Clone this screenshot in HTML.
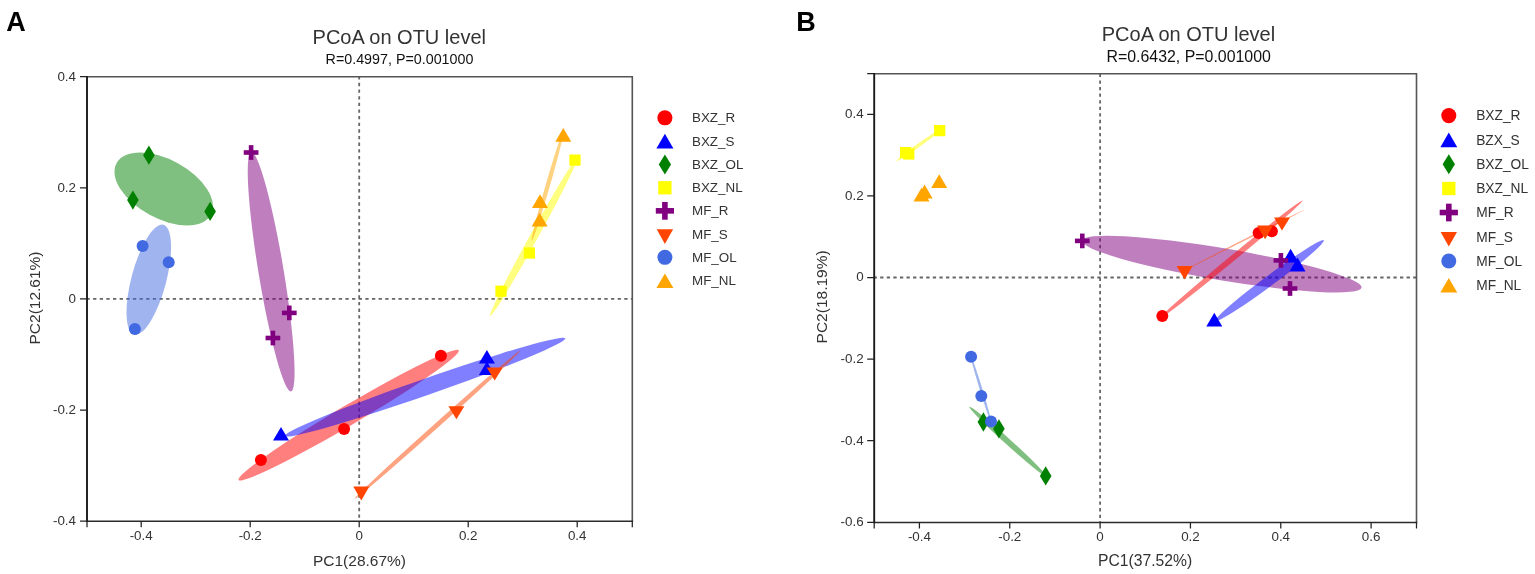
<!DOCTYPE html>
<html><head><meta charset="utf-8"><title>PCoA on OTU level</title>
<style>html,body{margin:0;padding:0;background:#fff;}body{width:1535px;height:574px;overflow:hidden;}svg{display:block;}</style>
</head><body>
<svg width="1535" height="574" viewBox="0 0 1535 574" font-family="'Liberation Sans', Arial, Helvetica, sans-serif">
<rect width="1535" height="574" fill="#fff"/>
<text x="6.3" y="30.6" font-size="27" fill="#000" text-anchor="start" font-weight="bold">A</text>
<text x="796.2" y="30.6" font-size="27" fill="#000" text-anchor="start" font-weight="bold">B</text>
<text x="399.3" y="43.7" font-size="20" fill="#333" text-anchor="middle">PCoA on OTU level</text>
<text x="399.5" y="64" font-size="14.3" fill="#111" text-anchor="middle">R=0.4997, P=0.001000</text>
<text x="1188.5" y="40.6" font-size="20" fill="#333" text-anchor="middle">PCoA on OTU level</text>
<text x="1188.7" y="62" font-size="15.9" fill="#111" text-anchor="middle">R=0.6432, P=0.001000</text>
<text x="359.5" y="566" font-size="15.5" fill="#333" text-anchor="middle">PC1(28.67%)</text>
<text x="1145.1" y="566.4" font-size="15.7" fill="#333" text-anchor="middle">PC1(37.52%)</text>
<text x="0" y="0" font-size="15.5" fill="#333" text-anchor="middle" transform="translate(40.0 298.0) rotate(-90)">PC2(12.61%)</text>
<text x="0" y="0" font-size="15.5" fill="#333" text-anchor="middle" transform="translate(826.8 296.9) rotate(-90)">PC2(18.19%)</text>
<line x1="87" y1="298.95" x2="632.3" y2="298.95" stroke="#666" stroke-width="1.8" stroke-dasharray="3.32 3.32" stroke-dashoffset="0.57"/>
<line x1="359.2" y1="521.2" x2="359.2" y2="76.8" stroke="#666" stroke-width="1.8" stroke-dasharray="3.32 3.32" stroke-dashoffset="3.21"/>
<line x1="874.2" y1="277.5" x2="1416.5" y2="277.5" stroke="#666" stroke-width="1.8" stroke-dasharray="3.29 3.29" stroke-dashoffset="0.6"/>
<line x1="1100.1" y1="522.5" x2="1100.1" y2="73.7" stroke="#666" stroke-width="1.8" stroke-dasharray="3.29 3.29" stroke-dashoffset="2.04"/>
<ellipse cx="163.7" cy="189" rx="53.7" ry="29.4" transform="rotate(28.6 163.7 189)" fill="#008000" fill-opacity="0.5"/>
<ellipse cx="148.8" cy="279.7" rx="56.8" ry="17.4" transform="rotate(-75.1 148.8 279.7)" fill="#4169E1" fill-opacity="0.5"/>
<ellipse cx="271.15" cy="271.85" rx="121.29" ry="12.6" transform="rotate(80.58 271.15 271.85)" fill="#800080" fill-opacity="0.5"/>
<ellipse cx="533.6" cy="237.15" rx="89.83" ry="4" transform="rotate(-61.11 533.6 237.15)" fill="#FFFF00" fill-opacity="0.5"/>
<ellipse cx="547.6" cy="186" rx="57.25" ry="2.2" transform="rotate(-73.88 547.6 186)" fill="#FFA500" fill-opacity="0.5"/>
<ellipse cx="348.65" cy="415.15" rx="127.74" ry="9.9" transform="rotate(-30.51 348.65 415.15)" fill="#FF0000" fill-opacity="0.5"/>
<ellipse cx="425.1" cy="387.2" rx="148.45" ry="8.2" transform="rotate(-19.19 425.1 387.2)" fill="#0000FF" fill-opacity="0.5"/>
<ellipse cx="437.4" cy="424.75" rx="111.36" ry="2.4" transform="rotate(-41.82 437.4 424.75)" fill="#FF4500" fill-opacity="0.5"/>
<circle cx="260.9" cy="460" r="6" fill="#FF0000"/>
<circle cx="344.1" cy="429" r="6" fill="#FF0000"/>
<circle cx="440.9" cy="355.7" r="6" fill="#FF0000"/>
<polygon points="281,427 289,440.6 273,440.6" fill="#0000FF"/>
<polygon points="486.9,349.9 494.9,363.5 478.9,363.5" fill="#0000FF"/>
<polygon points="486.9,361.5 494.9,375.1 478.9,375.1" fill="#0000FF"/>
<polygon points="148.9,145.55 154.7,155.2 148.9,164.85 143.1,155.2" fill="#008000"/>
<polygon points="132.9,190.45 138.7,200.1 132.9,209.75 127.1,200.1" fill="#008000"/>
<polygon points="210.1,201.75 215.9,211.4 210.1,221.05 204.3,211.4" fill="#008000"/>
<rect x="569.4" y="154.5" width="11.2" height="11.2" fill="#FFFF00"/>
<rect x="523.8" y="247.4" width="11.2" height="11.2" fill="#FFFF00"/>
<rect x="495.4" y="285.6" width="11.2" height="11.2" fill="#FFFF00"/>
<rect x="243.75" y="150.2" width="14.7" height="4.6" fill="#800080"/><rect x="248.8" y="145.15" width="4.6" height="14.7" fill="#800080"/>
<rect x="281.95" y="310.6" width="14.7" height="4.6" fill="#800080"/><rect x="287" y="305.55" width="4.6" height="14.7" fill="#800080"/>
<rect x="265.55" y="335.7" width="14.7" height="4.6" fill="#800080"/><rect x="270.6" y="330.65" width="4.6" height="14.7" fill="#800080"/>
<polygon points="486.7,367.6 502.7,367.6 494.7,380.6" fill="#FF4500"/>
<polygon points="448.4,406.3 464.4,406.3 456.4,419.3" fill="#FF4500"/>
<polygon points="353.3,486.6 369.3,486.6 361.3,500.4" fill="#FF4500"/>
<circle cx="142.6" cy="246.1" r="6" fill="#4169E1"/>
<circle cx="168.7" cy="262.2" r="6" fill="#4169E1"/>
<circle cx="134.9" cy="329.1" r="6" fill="#4169E1"/>
<polygon points="563.3,128.1 571.3,141.8 555.3,141.8" fill="#FFA500"/>
<polygon points="540,194.3 548,208 532,208" fill="#FFA500"/>
<polygon points="539.6,212.7 547.6,226.6 531.6,226.6" fill="#FFA500"/>
<ellipse cx="1221.7" cy="264.1" rx="141.86" ry="16" transform="rotate(9.54 1221.7 264.1)" fill="#800080" fill-opacity="0.5"/>
<ellipse cx="918.65" cy="145.3" rx="27.37" ry="1.8" transform="rotate(-35.26 918.65 145.3)" fill="#FFFF00" fill-opacity="0.5"/>
<ellipse cx="1008.15" cy="441.85" rx="52.39" ry="3" transform="rotate(42.14 1008.15 441.85)" fill="#008000" fill-opacity="0.5"/>
<ellipse cx="981.05" cy="389.25" rx="35.84" ry="1.3" transform="rotate(72.88 981.05 389.25)" fill="#4169E1" fill-opacity="0.5"/>
<ellipse cx="1231.35" cy="259.25" rx="92.43" ry="2.9" transform="rotate(-39.47 1231.35 259.25)" fill="#FF0000" fill-opacity="0.5"/>
<ellipse cx="1269.75" cy="280.5" rx="67.36" ry="5.1" transform="rotate(-36.64 1269.75 280.5)" fill="#0000FF" fill-opacity="0.5"/>
<ellipse cx="1244" cy="240.2" rx="67.22" ry="0.7" transform="rotate(-26.79 1244 240.2)" fill="#FF4500" fill-opacity="0.5"/>
<circle cx="1162.3" cy="315.9" r="6" fill="#FF0000"/>
<circle cx="1258.6" cy="232.9" r="6" fill="#FF0000"/>
<circle cx="1271.9" cy="231.3" r="6" fill="#FF0000"/>
<polygon points="1214.3,312.7 1222.3,326.5 1206.3,326.5" fill="#0000FF"/>
<polygon points="1290.6,248.8 1298.6,262.6 1282.6,262.6" fill="#0000FF"/>
<polygon points="1297.5,257.6 1305.5,271.4 1289.5,271.4" fill="#0000FF"/>
<polygon points="983.4,412.35 989.2,422 983.4,431.65 977.6,422" fill="#008000"/>
<polygon points="998.9,419.15 1004.7,428.8 998.9,438.45 993.1,428.8" fill="#008000"/>
<polygon points="1045.7,466.25 1051.5,475.9 1045.7,485.55 1039.9,475.9" fill="#008000"/>
<rect x="934.1" y="125" width="11.2" height="11.2" fill="#FFFF00"/>
<rect x="900" y="147" width="11.2" height="11.2" fill="#FFFF00"/>
<rect x="903.2" y="148.4" width="11.2" height="11.2" fill="#FFFF00"/>
<rect x="1074.95" y="238.6" width="14.7" height="4.6" fill="#800080"/><rect x="1080" y="233.55" width="4.6" height="14.7" fill="#800080"/>
<rect x="1273.55" y="258.1" width="14.7" height="4.6" fill="#800080"/><rect x="1278.6" y="253.05" width="4.6" height="14.7" fill="#800080"/>
<rect x="1282.65" y="286.2" width="14.7" height="4.6" fill="#800080"/><rect x="1287.7" y="281.15" width="4.6" height="14.7" fill="#800080"/>
<polygon points="1176.6,266 1192.6,266 1184.6,279.5" fill="#FF4500"/>
<polygon points="1257.1,225.6 1273.1,225.6 1265.1,239.3" fill="#FF4500"/>
<polygon points="1274,217.4 1290,217.4 1282,230.6" fill="#FF4500"/>
<circle cx="971.1" cy="356.8" r="6" fill="#4169E1"/>
<circle cx="981.3" cy="395.9" r="6" fill="#4169E1"/>
<circle cx="991" cy="421.6" r="6" fill="#4169E1"/>
<polygon points="939.2,174.3 947.2,188.1 931.2,188.1" fill="#FFA500"/>
<polygon points="924.6,184.6 932.6,198.5 916.6,198.5" fill="#FFA500"/>
<polygon points="921.5,187.7 929.5,201.5 913.5,201.5" fill="#FFA500"/>
<path d="M87 76.8H632.3V521.2" fill="none" stroke="#555" stroke-width="1.6"/>
<path d="M87 521.2H633.1" fill="none" stroke="#2a2a2a" stroke-width="1.6"/>
<path d="M87 76V522" fill="none" stroke="#1a1a1a" stroke-width="1.9"/>
<path d="M141.2 521.2V527.2M250.2 521.2V527.2M359.2 521.2V527.2M468.2 521.2V527.2M577.2 521.2V527.2M87 76.71H80M87 187.83H80M87 298.95H80M87 410.07H80M87 521.19H80M87 521.2V527.2M632.3 521.2V527.2" stroke="#222" stroke-width="1.25" fill="none"/>
<text x="141.2" y="539.8" font-size="13.4" fill="#333" text-anchor="middle">-0.4</text>
<text x="250.2" y="539.8" font-size="13.4" fill="#333" text-anchor="middle">-0.2</text>
<text x="359.2" y="539.8" font-size="13.4" fill="#333" text-anchor="middle">0</text>
<text x="468.2" y="539.8" font-size="13.4" fill="#333" text-anchor="middle">0.2</text>
<text x="577.2" y="539.8" font-size="13.4" fill="#333" text-anchor="middle">0.4</text>
<text x="76" y="80.61" font-size="13.4" fill="#333" text-anchor="end">0.4</text>
<text x="76" y="191.73" font-size="13.4" fill="#333" text-anchor="end">0.2</text>
<text x="76" y="302.85" font-size="13.4" fill="#333" text-anchor="end">0</text>
<text x="76" y="413.97" font-size="13.4" fill="#333" text-anchor="end">-0.2</text>
<text x="76" y="525.09" font-size="13.4" fill="#333" text-anchor="end">-0.4</text>
<path d="M874.2 73.7H1416.5V522.5" fill="none" stroke="#555" stroke-width="1.6"/>
<path d="M874.2 522.5H1417.3" fill="none" stroke="#2a2a2a" stroke-width="1.6"/>
<path d="M874.2 72.9V523.3" fill="none" stroke="#1a1a1a" stroke-width="1.9"/>
<path d="M919.42 522.5V528.5M1009.76 522.5V528.5M1100.1 522.5V528.5M1190.44 522.5V528.5M1280.78 522.5V528.5M1371.12 522.5V528.5M874.2 114.26H867.2M874.2 195.88H867.2M874.2 277.5H867.2M874.2 359.12H867.2M874.2 440.74H867.2M874.2 522.36H867.2M874.2 522.5V528.5M1416.5 522.5V528.5M874.2 73.7H867.2" stroke="#222" stroke-width="1.25" fill="none"/>
<text x="919.42" y="540.8" font-size="13.4" fill="#333" text-anchor="middle">-0.4</text>
<text x="1009.76" y="540.8" font-size="13.4" fill="#333" text-anchor="middle">-0.2</text>
<text x="1100.1" y="540.8" font-size="13.4" fill="#333" text-anchor="middle">0</text>
<text x="1190.44" y="540.8" font-size="13.4" fill="#333" text-anchor="middle">0.2</text>
<text x="1280.78" y="540.8" font-size="13.4" fill="#333" text-anchor="middle">0.4</text>
<text x="1371.12" y="540.8" font-size="13.4" fill="#333" text-anchor="middle">0.6</text>
<text x="863.6" y="118.16" font-size="13.4" fill="#333" text-anchor="end">0.4</text>
<text x="863.6" y="199.78" font-size="13.4" fill="#333" text-anchor="end">0.2</text>
<text x="863.6" y="281.4" font-size="13.4" fill="#333" text-anchor="end">0</text>
<text x="863.6" y="363.02" font-size="13.4" fill="#333" text-anchor="end">-0.2</text>
<text x="863.6" y="444.64" font-size="13.4" fill="#333" text-anchor="end">-0.4</text>
<text x="863.6" y="526.26" font-size="13.4" fill="#333" text-anchor="end">-0.6</text>
<circle cx="664.9" cy="117.8" r="7.55" fill="#FF0000"/>
<text x="692" y="122.4" font-size="13.4" fill="#333" text-anchor="start">BXZ_R</text>
<polygon points="664.9,133.76 673.4,148.56 656.4,148.56" fill="#0000FF"/>
<text x="692" y="145.66" font-size="13.4" fill="#333" text-anchor="start">BXZ_S</text>
<polygon points="664.9,154.62 671.05,164.52 664.9,174.42 658.75,164.52" fill="#008000"/>
<text x="692" y="168.92" font-size="13.4" fill="#333" text-anchor="start">BXZ_OL</text>
<rect x="658.25" y="181.13" width="13.3" height="13.3" fill="#FFFF00"/>
<text x="692" y="192.18" font-size="13.4" fill="#333" text-anchor="start">BXZ_NL</text>
<rect x="655.8" y="208.04" width="18.2" height="5.6" fill="#800080"/><rect x="662.1" y="201.99" width="5.6" height="17.7" fill="#800080"/>
<text x="692" y="215.44" font-size="13.4" fill="#333" text-anchor="start">MF_R</text>
<polygon points="656.7,229.3 673.1,229.3 664.9,243.9" fill="#FF4500"/>
<text x="692" y="238.7" font-size="13.4" fill="#333" text-anchor="start">MF_S</text>
<circle cx="664.9" cy="257.36" r="7.5" fill="#4169E1"/>
<text x="692" y="261.96" font-size="13.4" fill="#333" text-anchor="start">MF_OL</text>
<polygon points="664.9,273.42 673.4,288.02 656.4,288.02" fill="#FFA500"/>
<text x="692" y="285.22" font-size="13.4" fill="#333" text-anchor="start">MF_NL</text>
<circle cx="1448.8" cy="115.6" r="7.55" fill="#FF0000"/>
<text x="1476.2" y="120.4" font-size="13.75" fill="#333" text-anchor="start">BXZ_R</text>
<polygon points="1448.8,132.53 1457.25,147.33 1440.35,147.33" fill="#0000FF"/>
<text x="1476.2" y="144.63" font-size="13.75" fill="#333" text-anchor="start">BZX_S</text>
<polygon points="1448.8,154.36 1454.95,164.26 1448.8,174.16 1442.65,164.26" fill="#008000"/>
<text x="1476.2" y="168.86" font-size="13.75" fill="#333" text-anchor="start">BXZ_OL</text>
<rect x="1442.15" y="181.84" width="13.3" height="13.3" fill="#FFFF00"/>
<text x="1476.2" y="193.09" font-size="13.75" fill="#333" text-anchor="start">BXZ_NL</text>
<rect x="1439.7" y="209.72" width="18.2" height="5.6" fill="#800080"/><rect x="1446" y="203.67" width="5.6" height="17.7" fill="#800080"/>
<text x="1476.2" y="217.32" font-size="13.75" fill="#333" text-anchor="start">MF_R</text>
<polygon points="1440.6,231.95 1457,231.95 1448.8,246.55" fill="#FF4500"/>
<text x="1476.2" y="241.55" font-size="13.75" fill="#333" text-anchor="start">MF_S</text>
<circle cx="1448.8" cy="260.98" r="7.5" fill="#4169E1"/>
<text x="1476.2" y="265.78" font-size="13.75" fill="#333" text-anchor="start">MF_OL</text>
<polygon points="1448.8,278.01 1457.25,292.61 1440.35,292.61" fill="#FFA500"/>
<text x="1476.2" y="290.01" font-size="13.75" fill="#333" text-anchor="start">MF_NL</text>
</svg>
</body></html>
